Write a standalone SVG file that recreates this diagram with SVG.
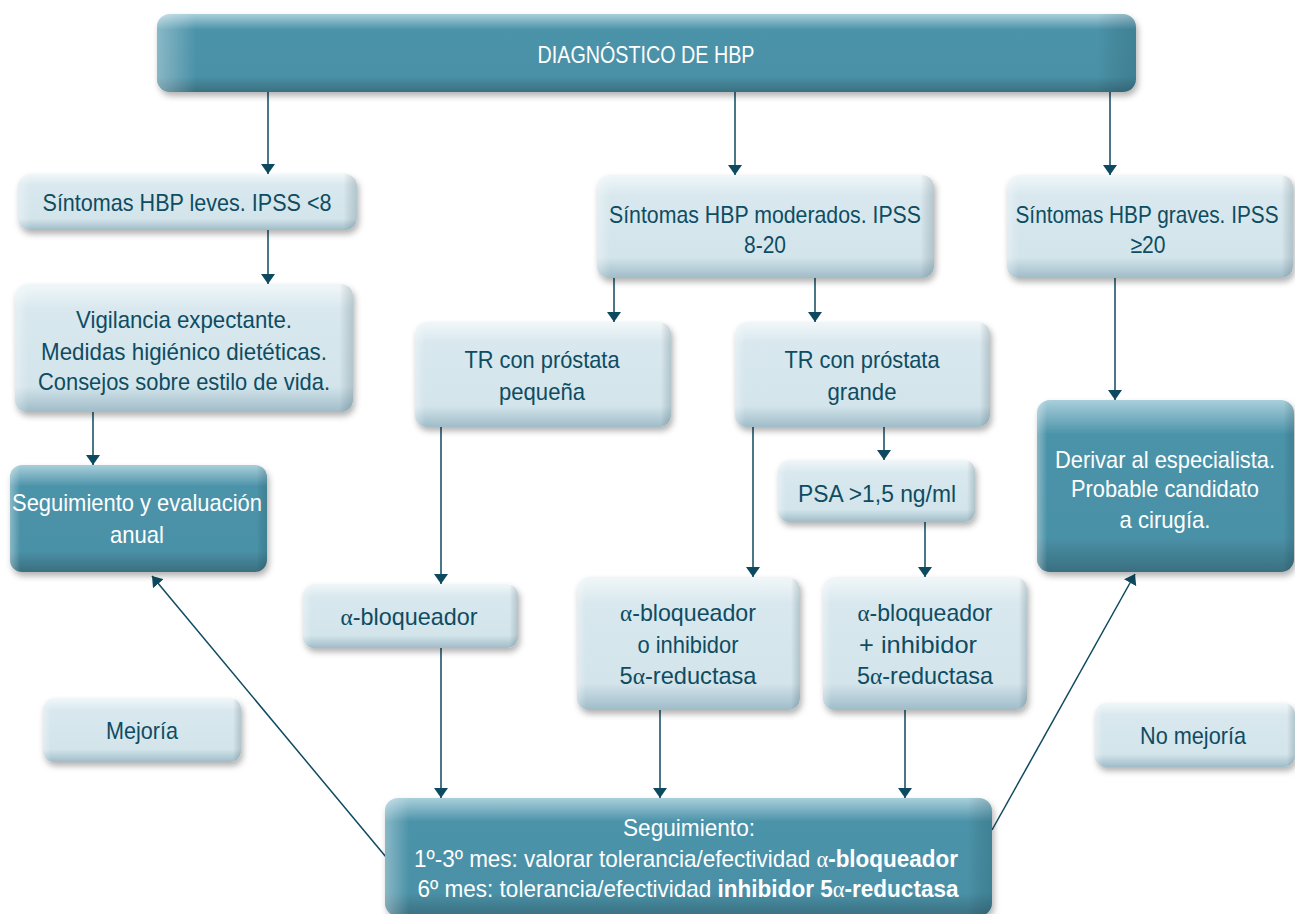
<svg xmlns="http://www.w3.org/2000/svg" width="1295" height="914" viewBox="0 0 1295 914">
  <defs>
    <linearGradient id="lightV" x1="0" y1="0" x2="0" y2="1">
      <stop offset="0" stop-color="#f1f7f9"/>
      <stop offset="0.2" stop-color="#d8e8ee"/>
      <stop offset="0.8" stop-color="#d3e4eb"/>
      <stop offset="1" stop-color="#9fbcc8"/>
    </linearGradient>
    <linearGradient id="darkV" x1="0" y1="0" x2="0" y2="1">
      <stop offset="0" stop-color="#a9cfdb"/>
      <stop offset="0.2" stop-color="#4c93a9"/>
      <stop offset="0.8" stop-color="#4a91a7"/>
      <stop offset="1" stop-color="#3a6f80"/>
    </linearGradient>
    <linearGradient id="edgeH" x1="0" y1="0" x2="1" y2="0">
      <stop offset="0" stop-color="#ffffff" stop-opacity="0.35"/>
      <stop offset="0.04" stop-color="#ffffff" stop-opacity="0"/>
      <stop offset="0.96" stop-color="#000000" stop-opacity="0"/>
      <stop offset="1" stop-color="#0a3340" stop-opacity="0.18"/>
    </linearGradient>
    <filter id="shadow" x="-10%" y="-20%" width="120%" height="150%">
      <feDropShadow dx="2" dy="4" stdDeviation="3" flood-color="#000" flood-opacity="0.3"/>
    </filter>
    <marker id="arrow" viewBox="0 0 10 14" refX="10" refY="7" markerWidth="10" markerHeight="14" markerUnits="userSpaceOnUse" orient="auto">
      <path d="M0,0 L10,7 L0,14 Z" fill="#0d4a5f"/>
    </marker>
    <style>
      .light { fill: url(#lightV); filter: url(#shadow); }
      .dark { fill: url(#darkV); filter: url(#shadow); }
      .edge { fill: url(#edgeH); }
      text { font-family: "Liberation Sans Narrow", "Liberation Sans", sans-serif; font-size: 24px; text-anchor: middle; }
      .tl { fill: #0e4c62; }
      .td { fill: #ffffff; }
      .a { font-family: "Liberation Serif", serif; }
      .b { font-weight: bold; }
      .conn line { stroke: #0d4a5f; stroke-width: 1.5; fill: none; marker-end: url(#arrow); }
    </style>
  </defs>

  <!-- connectors -->
  <g id="connectors" class="conn">
    <line x1="268" y1="92" x2="268" y2="174"/>
    <line x1="735" y1="92" x2="735" y2="175"/>
    <line x1="1110" y1="92" x2="1110" y2="175"/>
    <line x1="268" y1="230" x2="268" y2="284"/>
    <line x1="93" y1="412" x2="93" y2="465"/>
    <line x1="614" y1="278" x2="614" y2="322"/>
    <line x1="815" y1="278" x2="815" y2="322"/>
    <line x1="1115" y1="278" x2="1115" y2="400"/>
    <line x1="441" y1="427" x2="441" y2="584"/>
    <line x1="753" y1="427" x2="753" y2="577"/>
    <line x1="884" y1="427" x2="884" y2="460"/>
    <line x1="925" y1="522" x2="925" y2="577"/>
    <line x1="441" y1="648" x2="441" y2="798"/>
    <line x1="660" y1="710" x2="660" y2="798"/>
    <line x1="905" y1="710" x2="905" y2="798"/>
    <line x1="386" y1="857" x2="152" y2="576"/>
    <line x1="992" y1="830" x2="1135" y2="574"/>
  </g>

  <g id="diagnostico">
    <rect class="dark" x="157" y="14" width="979" height="78" rx="13"/>
    <rect class="edge" x="157" y="14" width="979" height="78" rx="13"/>
    <text class="td" x="646" y="63" textLength="217" lengthAdjust="spacingAndGlyphs">DIAGNÓSTICO DE HBP</text>
  </g>

  <g id="leves">
    <rect class="light" x="18" y="174" width="339" height="56" rx="12"/>
    <rect class="edge" x="18" y="174" width="339" height="56" rx="12"/>
    <text class="tl" x="187" y="211" textLength="289" lengthAdjust="spacingAndGlyphs">Síntomas HBP leves. IPSS &lt;8</text>
  </g>

  <g id="moderados">
    <rect class="light" x="597" y="175" width="337" height="103" rx="12"/>
    <rect class="edge" x="597" y="175" width="337" height="103" rx="12"/>
    <text class="tl" x="765" y="223" textLength="312" lengthAdjust="spacingAndGlyphs">Síntomas HBP moderados. IPSS</text>
    <text class="tl" x="765" y="253" textLength="42" lengthAdjust="spacingAndGlyphs">8-20</text>
  </g>

  <g id="graves">
    <rect class="light" x="1007" y="175" width="286" height="103" rx="12"/>
    <rect class="edge" x="1007" y="175" width="286" height="103" rx="12"/>
    <text class="tl" x="1147" y="223" textLength="263" lengthAdjust="spacingAndGlyphs">Síntomas HBP graves. IPSS</text>
    <text class="tl" x="1148" y="253" textLength="35" lengthAdjust="spacingAndGlyphs">≥20</text>
  </g>

  <g id="vigilancia">
    <rect class="light" x="15" y="284" width="338" height="128" rx="12"/>
    <rect class="edge" x="15" y="284" width="338" height="128" rx="12"/>
    <text class="tl" x="184" y="328" textLength="216" lengthAdjust="spacingAndGlyphs">Vigilancia expectante.</text>
    <text class="tl" x="184" y="360" textLength="286" lengthAdjust="spacingAndGlyphs">Medidas higiénico dietéticas.</text>
    <text class="tl" x="184" y="390" textLength="292" lengthAdjust="spacingAndGlyphs">Consejos sobre estilo de vida.</text>
  </g>

  <g id="anual">
    <rect class="dark" x="10" y="465" width="257" height="107" rx="12"/>
    <rect class="edge" x="10" y="465" width="257" height="107" rx="12"/>
    <text class="td" x="137" y="511" textLength="250" lengthAdjust="spacingAndGlyphs">Seguimiento y evaluación</text>
    <text class="td" x="137" y="543" textLength="54" lengthAdjust="spacingAndGlyphs">anual</text>
  </g>

  <g id="tr-pequena">
    <rect class="light" x="415" y="322" width="256" height="105" rx="12"/>
    <rect class="edge" x="415" y="322" width="256" height="105" rx="12"/>
    <text class="tl" x="542" y="368" textLength="155" lengthAdjust="spacingAndGlyphs">TR con próstata</text>
    <text class="tl" x="542" y="400" textLength="86" lengthAdjust="spacingAndGlyphs">pequeña</text>
  </g>

  <g id="tr-grande">
    <rect class="light" x="735" y="322" width="255" height="105" rx="12"/>
    <rect class="edge" x="735" y="322" width="255" height="105" rx="12"/>
    <text class="tl" x="862" y="368" textLength="155" lengthAdjust="spacingAndGlyphs">TR con próstata</text>
    <text class="tl" x="862" y="400" textLength="69" lengthAdjust="spacingAndGlyphs">grande</text>
  </g>

  <g id="psa">
    <rect class="light" x="778" y="460" width="197" height="62" rx="11"/>
    <rect class="edge" x="778" y="460" width="197" height="62" rx="11"/>
    <text class="tl" x="877" y="502" textLength="158" lengthAdjust="spacingAndGlyphs">PSA &gt;1,5 ng/ml</text>
  </g>

  <g id="derivar">
    <rect class="dark" x="1037" y="400" width="257" height="172" rx="13"/>
    <rect class="edge" x="1037" y="400" width="257" height="172" rx="13"/>
    <text class="td" x="1165" y="468" textLength="220" lengthAdjust="spacingAndGlyphs">Derivar al especialista.</text>
    <text class="td" x="1165" y="497" textLength="188" lengthAdjust="spacingAndGlyphs">Probable candidato</text>
    <text class="td" x="1165" y="528" textLength="91" lengthAdjust="spacingAndGlyphs">a cirugía.</text>
  </g>

  <g id="alfa-bloqueador">
    <rect class="light" x="303" y="584" width="215" height="64" rx="11"/>
    <rect class="edge" x="303" y="584" width="215" height="64" rx="11"/>
    <text class="tl" x="409" y="625" textLength="137" lengthAdjust="spacingAndGlyphs"><tspan class="a">α</tspan>-bloqueador</text>
  </g>

  <g id="alfa-o-inhibidor">
    <rect class="light" x="577" y="577" width="223" height="133" rx="12"/>
    <rect class="edge" x="577" y="577" width="223" height="133" rx="12"/>
    <text class="tl" x="688" y="621" textLength="136" lengthAdjust="spacingAndGlyphs"><tspan class="a">α</tspan>-bloqueador</text>
    <text class="tl" x="688" y="653" textLength="101" lengthAdjust="spacingAndGlyphs">o inhibidor</text>
    <text class="tl" x="688" y="684" textLength="137" lengthAdjust="spacingAndGlyphs">5<tspan class="a">α</tspan>-reductasa</text>
  </g>

  <g id="alfa-mas-inhibidor">
    <rect class="light" x="823" y="577" width="204" height="133" rx="12"/>
    <rect class="edge" x="823" y="577" width="204" height="133" rx="12"/>
    <text class="tl" x="925" y="621" textLength="135" lengthAdjust="spacingAndGlyphs"><tspan class="a">α</tspan>-bloqueador</text>
    <text class="tl" x="918" y="653" textLength="118" lengthAdjust="spacingAndGlyphs">+ inhibidor</text>
    <text class="tl" x="925" y="684" textLength="136" lengthAdjust="spacingAndGlyphs">5<tspan class="a">α</tspan>-reductasa</text>
  </g>

  <g id="mejoria">
    <rect class="light" x="43" y="698" width="198" height="64" rx="11"/>
    <rect class="edge" x="43" y="698" width="198" height="64" rx="11"/>
    <text class="tl" x="142" y="739" textLength="72" lengthAdjust="spacingAndGlyphs">Mejoría</text>
  </g>

  <g id="no-mejoria">
    <rect class="light" x="1095" y="703" width="200" height="64" rx="11"/>
    <rect class="edge" x="1095" y="703" width="200" height="64" rx="11"/>
    <text class="tl" x="1193" y="744" textLength="106" lengthAdjust="spacingAndGlyphs">No mejoría</text>
  </g>

  <g id="seguimiento">
    <rect class="dark" x="385" y="798" width="607" height="118" rx="13"/>
    <rect class="edge" x="385" y="798" width="607" height="118" rx="13"/>
    <text class="td" x="689" y="836" textLength="132" lengthAdjust="spacingAndGlyphs">Seguimiento:</text>
    <text class="td" x="686" y="867" textLength="544" lengthAdjust="spacingAndGlyphs">1º-3º mes: valorar tolerancia/efectividad <tspan class="a">α</tspan><tspan class="b">-bloqueador</tspan></text>
    <text class="td" x="688" y="897" textLength="541" lengthAdjust="spacingAndGlyphs">6º mes: tolerancia/efectividad <tspan class="b">inhibidor 5</tspan><tspan class="a">α</tspan><tspan class="b">-reductasa</tspan></text>
  </g>
</svg>
